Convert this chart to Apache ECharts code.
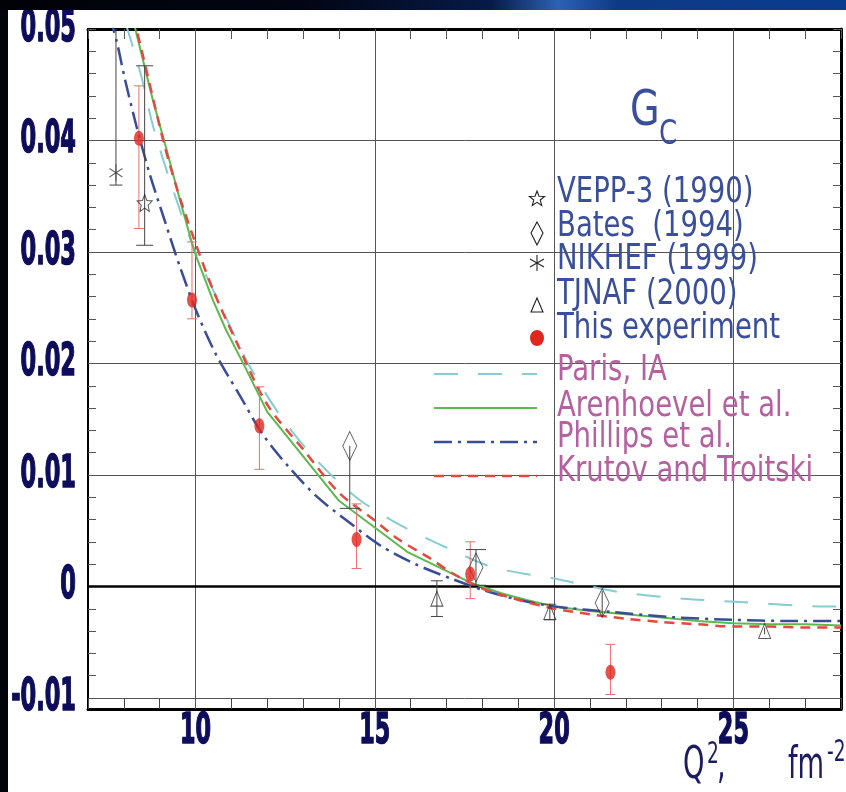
<!DOCTYPE html>
<html><head><meta charset="utf-8">
<script src="https://cdn.jsdelivr.net/npm/echarts@6/dist/echarts.min.js"></script>
<style>
html,body{margin:0;padding:0;width:846px;height:792px;overflow:hidden;background:#02040c;}
#band{position:absolute;left:0;top:0;width:846px;height:10px;background:linear-gradient(90deg,#010208 0%,#020512 35%,#071a48 58%,#2c62b4 66%,#0d3a86 73%,#0a3c8e 100%);}
#chart{position:absolute;left:8px;top:10px;width:838px;height:782px;background:#fff;}
</style></head><body><div id="band"></div><div id="chart"></div>
<script>
// ---- tick labels ----
const xTickLabels = [10, 15, 20, 25];
const yTickLabels = [-0.01, 0, 0.01, 0.02, 0.03, 0.04, 0.05];

// ---- data points (Q^2 in fm^-2, G_C) ----
const thisExpX    = [8.42, 9.90, 11.78, 14.49, 17.66, 21.57];
const thisExpY    = [0.0402, 0.0257, 0.0144, 0.0042, 0.0011, -0.0077];
const thisExpLow  = [0.0321, 0.0240, 0.0105, 0.0016, -0.0011, -0.0097];
const thisExpHigh = [0.0449, 0.0309, 0.0179, 0.0074, 0.0040, -0.0052];

const veppX = [8.58];
const veppY = [0.0344];
const veppLow = [0.0306];
const veppHigh = [0.0467];

const batesX = [14.30, 17.82, 21.34];
const batesY = [0.0126, 0.0017, -0.0015];
const batesLow = [0.0070, 0.0001, -0.0026];
const batesHigh = [0.0126, 0.0033, -0.0004];

const nikhefX = [7.78];
const nikhefY = [0.0371];
const nikhefLow = [0.0360];
const nikhefHigh = [0.0520];

const tjnafX = [16.73, 19.88, 25.87];
const tjnafY = [-0.0011, -0.0023, -0.0040];
const tjnafLow = [-0.0027, -0.0030, -0.0043];
const tjnafHigh = [0.0005, -0.0016, -0.0037];

// ---- theory curves ----
const parisX = [8.05, 8.26, 8.5, 8.83, 9.39, 9.97, 10.71, 11.5, 12.43, 13.44, 14.56, 15.76, 17.06, 18.3, 20.0, 21.8, 23.6, 25.2, 27.6, 28.0];
const parisY = [0.0505, 0.0483, 0.0456, 0.0411, 0.0354, 0.0302, 0.0251, 0.0198, 0.0150, 0.0111, 0.0078, 0.0054, 0.0034, 0.0017, 0.0007, -0.0005, -0.0011, -0.0014, -0.0018, -0.0018];

const arenX = [8.0, 8.32, 8.81, 9.19, 9.56, 9.97, 10.48, 10.85, 11.36, 12.0, 14.0, 15.9, 17.7, 18.5, 19.2, 20.0, 21.0, 22.0, 23.0, 24.0, 25.0, 26.0, 27.0, 28.0];
const arenY = [0.0542, 0.0500, 0.0436, 0.0392, 0.0347, 0.0300, 0.0257, 0.0230, 0.0198, 0.01565, 0.00768, 0.0031, 0.0003, -0.0006, -0.0012, -0.0018, -0.0022, -0.0025, -0.0028, -0.0031, -0.0033, -0.0034, -0.0034, -0.0035];

const phillX = [7.6, 7.8, 8.03, 8.35, 8.72, 9.14, 9.56, 10.02, 10.57, 11.22, 11.87, 12.61, 13.4, 14.28, 15.16, 16.13, 17.1, 18.07, 19.0, 20.0, 21.64, 23.3, 24.94, 26.5, 28.0];
const phillY = [0.0512, 0.0489, 0.0455, 0.0413, 0.0370, 0.0328, 0.0287, 0.0247, 0.0208, 0.0172, 0.01365, 0.01067, 0.0080, 0.00575, 0.00365, 0.0020, 0.00073, -0.00038, -0.0012, -0.0018, -0.0023, -0.00276, -0.0030, -0.0031, -0.0031];

const krutX = [8.0, 8.35, 9.09, 9.46, 9.93, 10.5, 11.13, 12.0, 13.0, 14.0, 15.0, 15.67, 16.5, 17.15, 18.0, 19.0, 20.0, 21.0, 22.0, 23.0, 24.0, 25.0, 26.0, 27.0, 28.0];
const krutY = [0.0540, 0.0500, 0.0401, 0.0359, 0.0314, 0.0265, 0.0220, 0.0163, 0.0123, 0.0084, 0.0059, 0.0042, 0.0026, 0.0012, -0.0002, -0.0012, -0.0020, -0.0025, -0.0029, -0.0032, -0.0034, -0.0036, -0.0036, -0.0037, -0.0037];

const legendMarkers = ['VEPP-3 (1990)', 'Bates  (1994)', 'NIKHEF (1999)', 'TJNAF (2000)', 'This experiment'];
const legendCurves = ['Paris, IA', 'Arenhoevel et al.', 'Phillips et al.', 'Krutov and Troitski'];

// ---- styling ----
const FONT = "'Liberation Sans Narrow','Arial Narrow','DejaVu Sans Condensed',sans-serif";
const TICKFONT = "'DejaVu Sans',sans-serif";
const NAVY = '#0d0d5c';
const C_PARIS = '#86ccd2', C_AREN = '#5cb94f', C_PHILL = '#3a4c96', C_KRUT = '#e4483f', C_RED = '#e0261f';
const DASH_PARIS = [24, 20], DASH_PHILL = [18, 6, 3, 6], DASH_KRUT = [10, 7];
const STAR = 'path://M10,0 L12.9,7 L20,7.6 L14.6,12.3 L16.2,19.5 L10,15.7 L3.8,19.5 L5.4,12.3 L0,7.6 L7.1,7 Z';
const ASTER = 'path://M10,0 L10,20 M1.3,5 L18.7,15 M1.3,15 L18.7,5';
const SX = 0.85; // horizontal condensing of annotation text

const pairs = (xs, ys) => xs.map((x, i) => [x, ys[i]]);

function errorSeries(xs, ys, lows, highs, color, capW, halfH) {
  return {
    type: 'custom', xAxisIndex: 0, yAxisIndex: 0, clip: true, silent: true, z: 3,
    encode: { x: 0, y: [1, 2] },
    data: xs.map((x, i) => [x, lows[i], highs[i], ys[i]]),
    renderItem: function (params, api) {
      const x = api.value(0);
      const pL = api.coord([x, api.value(1)]);
      const pH = api.coord([x, api.value(2)]);
      const pM = api.coord([x, api.value(3)]);
      const st = { stroke: color, lineWidth: 1 };
      const ch = [{ type: 'line', shape: { x1: pL[0], y1: pL[1], x2: pH[0], y2: pH[1] }, style: st }];
      if (pL[1] - pM[1] > halfH) ch.push({ type: 'line', shape: { x1: pL[0] - capW / 2, y1: pL[1], x2: pL[0] + capW / 2, y2: pL[1] }, style: st });
      if (pM[1] - pH[1] > halfH) ch.push({ type: 'line', shape: { x1: pH[0] - capW / 2, y1: pH[1], x2: pH[0] + capW / 2, y2: pH[1] }, style: st });
      return { type: 'group', children: ch };
    }
  };
}

function yLabel(v) {
  const r = Math.round(v * 100);
  return r === 0 ? '0' : (r / 100).toFixed(2);
}

function starPoints(cx, cy, R, r) {
  const pts = [];
  for (let k = 0; k < 10; k++) {
    const a = -Math.PI / 2 + k * Math.PI / 5;
    const rr = k % 2 === 0 ? R : r;
    pts.push([cx + rr * Math.cos(a), cy + rr * Math.sin(a)]);
  }
  return pts;
}

function txt(x, y, text, size, fill, sx) {
  return { type: 'text', x: x, y: y, scaleX: sx, z: 20,
    style: { text: text, font: size + 'px ' + FONT, fill: fill, verticalAlign: 'middle' } };
}

const chart = echarts.init(document.getElementById('chart'));

const legendTextY = [183, 217, 250, 285, 319];
const legendCurveY = [361, 397, 428, 462];
const legendLineY = [364, 398, 432, 466];
const curveStyles = [
  { stroke: C_PARIS, lineWidth: 2, lineDash: DASH_PARIS },
  { stroke: C_AREN, lineWidth: 2 },
  { stroke: C_PHILL, lineWidth: 2.5, lineDash: DASH_PHILL },
  { stroke: C_KRUT, lineWidth: 2.5, lineDash: DASH_KRUT }
];

const graphics = [];
legendMarkers.forEach((t, i) => graphics.push(txt(549, legendTextY[i], t, 36, '#3a4f9c', SX)));
legendCurves.forEach((t, i) => graphics.push(txt(549, legendCurveY[i], t, 36, '#b5609f', SX)));
legendLineY.forEach((y, i) => graphics.push({
  type: 'line', z: 20, shape: { x1: 426, y1: y, x2: 529, y2: y }, style: curveStyles[i]
}));
// legend marker symbols
const mk = { fill: 'none', stroke: '#222', lineWidth: 1.1 };
graphics.push({ type: 'polygon', z: 20, shape: { points: starPoints(529, 189, 8, 3.4) }, style: mk });
graphics.push({ type: 'polygon', z: 20, shape: { points: [[529, 212], [535, 223], [529, 235], [523, 223]] }, style: mk });
graphics.push({ type: 'line', z: 20, shape: { x1: 529, y1: 245, x2: 529, y2: 261 }, style: mk });
graphics.push({ type: 'line', z: 20, shape: { x1: 522, y1: 249, x2: 536, y2: 257 }, style: mk });
graphics.push({ type: 'line', z: 20, shape: { x1: 522, y1: 257, x2: 536, y2: 249 }, style: mk });
graphics.push({ type: 'polygon', z: 20, shape: { points: [[529, 288], [535, 302], [523, 302]] }, style: mk });
graphics.push({ type: 'circle', z: 20, x: 529, y: 328, scaleY: 8 / 7, shape: { cx: 0, cy: 0, r: 7 }, style: { fill: C_RED } });
// title G_C
graphics.push(txt(622, 102, 'G', 50, '#3a4f9c', SX));
graphics.push(txt(651, 125, 'C', 34, '#3a4f9c', SX));
// axis title Q^2, fm^-2
const AX = '#1c1c60';
graphics.push({ type: 'text', x: 675, y: 757, scaleX: 0.62, z: 20, style: { text: 'Q', font: '44px ' + TICKFONT, fill: AX, verticalAlign: 'middle' } });
graphics.push({ type: 'text', x: 699, y: 745, scaleX: 0.62, z: 20, style: { text: '2', font: '30px ' + TICKFONT, fill: AX, verticalAlign: 'middle' } });
graphics.push({ type: 'text', x: 709, y: 757, scaleX: 0.62, z: 20, style: { text: ',', font: '44px ' + TICKFONT, fill: AX, verticalAlign: 'middle' } });
graphics.push({ type: 'text', x: 780, y: 757, scaleX: 0.62, z: 20, style: { text: 'fm', font: '44px ' + TICKFONT, fill: AX, verticalAlign: 'middle' } });
graphics.push({ type: 'text', x: 819, y: 743, scaleX: 0.62, z: 20, style: { text: '-2', font: '30px ' + TICKFONT, fill: AX, verticalAlign: 'middle' } });

const option = {
  animation: false,
  backgroundColor: '#ffffff',
  grid: [
    { left: 80, top: 19, width: 753, height: 680 },
    { left: 80, top: 19, width: 753, height: 669 }
  ],
  xAxis: [
    { gridIndex: 0, type: 'value', min: 7, max: 28, interval: 1, position: 'bottom',
      axisLine: { show: true, onZero: false, lineStyle: { color: '#000', width: 3 } },
      axisTick: { show: true, inside: true, length: 11, lineStyle: { color: '#444', width: 1 } },
      axisLabel: { show: false }, splitLine: { show: false } },
    { gridIndex: 0, type: 'value', min: 7, max: 28, interval: 1, position: 'top',
      axisLine: { show: true, onZero: false, lineStyle: { color: '#000', width: 3 } },
      axisTick: { show: true, inside: true, length: 10, lineStyle: { color: '#555', width: 1 } },
      axisLabel: { show: false }, splitLine: { show: false } },
    { gridIndex: 1, type: 'value', min: 7, max: 28, show: false }
  ],
  yAxis: [
    { gridIndex: 0, type: 'value', min: -0.011, max: 0.05, position: 'left',
      axisLine: { show: true, onZero: false, lineStyle: { color: '#000', width: 2 } },
      axisTick: { show: false }, axisLabel: { show: false }, splitLine: { show: false } },
    { gridIndex: 0, type: 'value', min: -0.011, max: 0.05, position: 'right',
      axisLine: { show: true, onZero: false, lineStyle: { color: '#000', width: 3 } },
      axisTick: { show: false }, axisLabel: { show: false }, splitLine: { show: false } },
    { gridIndex: 1, type: 'value', min: -0.01, max: 0.05, interval: 0.01, position: 'left',
      axisLine: { show: false },
      axisTick: { show: true, inside: true, length: 8, lineStyle: { color: '#555', width: 1 } },
      minorTick: { show: true, splitNumber: 5, length: 8, lineStyle: { color: '#555', width: 1 } },
      axisLabel: { show: false },
      splitLine: { show: true, lineStyle: { color: '#555', width: 1 } } },
    { gridIndex: 1, type: 'value', min: -0.01, max: 0.05, interval: 0.01, position: 'right',
      axisLine: { show: false },
      axisTick: { show: true, inside: true, length: 8, lineStyle: { color: '#555', width: 1 } },
      minorTick: { show: true, splitNumber: 5, length: 8, lineStyle: { color: '#555', width: 1 } },
      axisLabel: { show: false }, splitLine: { show: false } }
  ],
  series: [
    { name: legendCurves[0], type: 'line', xAxisIndex: 0, yAxisIndex: 0, data: pairs(parisX, parisY),
      symbol: 'none', smooth: 0.3, clip: true, z: 2, lineStyle: { color: C_PARIS, width: 2, type: DASH_PARIS },
      markLine: { silent: true, symbol: 'none', z: 1, label: { show: false },
        lineStyle: { color: '#555', width: 1, type: 'solid' },
        data: xTickLabels.map(v => ({ xAxis: v })).concat([{ yAxis: 0, lineStyle: { color: '#000', width: 2.5, type: 'solid' } }]) } },
    { name: legendCurves[1], type: 'line', xAxisIndex: 0, yAxisIndex: 0, data: pairs(arenX, arenY),
      symbol: 'none', smooth: false, clip: true, z: 2, lineStyle: { color: C_AREN, width: 2 } },
    { name: legendCurves[2], type: 'line', xAxisIndex: 0, yAxisIndex: 0, data: pairs(phillX, phillY),
      symbol: 'none', smooth: 0.3, clip: true, z: 2, lineStyle: { color: C_PHILL, width: 2.5, type: DASH_PHILL } },
    { name: legendCurves[3], type: 'line', xAxisIndex: 0, yAxisIndex: 0, data: pairs(krutX, krutY),
      symbol: 'none', smooth: 0.3, clip: true, z: 2, lineStyle: { color: C_KRUT, width: 2.5, type: DASH_KRUT } },
    errorSeries(thisExpX, thisExpY, thisExpLow, thisExpHigh, '#e8706c', 10, 7),
    errorSeries(veppX, veppY, veppLow, veppHigh, '#444', 17, 8),
    errorSeries(nikhefX, nikhefY, nikhefLow, nikhefHigh, '#444', 13, 8),
    errorSeries(batesX, batesY, batesLow, batesHigh, '#444', 20, 14),
    errorSeries(tjnafX, tjnafY, tjnafLow, tjnafHigh, '#444', 12, 6),
    { name: legendMarkers[0], type: 'scatter', xAxisIndex: 0, yAxisIndex: 0, data: pairs(veppX, veppY), z: 4,
      symbol: STAR, symbolSize: [15, 17], itemStyle: { color: 'rgba(0,0,0,0)', borderColor: '#222', borderWidth: 1 } },
    { name: legendMarkers[1], type: 'scatter', xAxisIndex: 0, yAxisIndex: 0, data: pairs(batesX, batesY), z: 4,
      symbol: 'diamond', symbolSize: [14, 29], itemStyle: { color: 'rgba(255,255,255,0)', borderColor: '#333', borderWidth: 1 } },
    { name: legendMarkers[2], type: 'scatter', xAxisIndex: 0, yAxisIndex: 0, data: pairs(nikhefX, nikhefY), z: 4,
      symbol: ASTER, symbolSize: [13, 17], itemStyle: { color: 'rgba(0,0,0,0)', borderColor: '#333', borderWidth: 1 } },
    { name: legendMarkers[3], type: 'scatter', xAxisIndex: 0, yAxisIndex: 0, data: pairs(tjnafX, tjnafY), z: 4,
      symbol: 'triangle', symbolSize: [12, 15], itemStyle: { color: 'rgba(255,255,255,0)', borderColor: '#333', borderWidth: 1 } },
    { name: legendMarkers[4], type: 'scatter', xAxisIndex: 0, yAxisIndex: 0, data: pairs(thisExpX, thisExpY), z: 5,
      symbol: 'circle', symbolSize: [10, 15], itemStyle: { color: C_RED } }
  ]
};
chart.setOption(option);

// tick labels placed through the axes' own scales (condensed bold like the original)
yTickLabels.forEach(v => {
  const py = chart.convertToPixel({ yAxisIndex: 2 }, v);
  graphics.push({ type: 'text', x: 68, y: py, scaleX: 0.5, z: 20,
    style: { text: yLabel(v), font: 'bold 45px ' + TICKFONT, fill: NAVY, stroke: NAVY, lineWidth: 1.6, align: 'right', verticalAlign: 'middle' } });
});
xTickLabels.forEach(v => {
  const px = chart.convertToPixel({ xAxisIndex: 0 }, v);
  graphics.push({ type: 'text', x: px, y: 722, scaleX: 0.52, z: 20,
    style: { text: String(v), font: 'bold 43px ' + TICKFONT, fill: NAVY, stroke: NAVY, lineWidth: 1.6, align: 'center', verticalAlign: 'middle' } });
});
chart.setOption({ graphic: graphics });
</script></body></html>
